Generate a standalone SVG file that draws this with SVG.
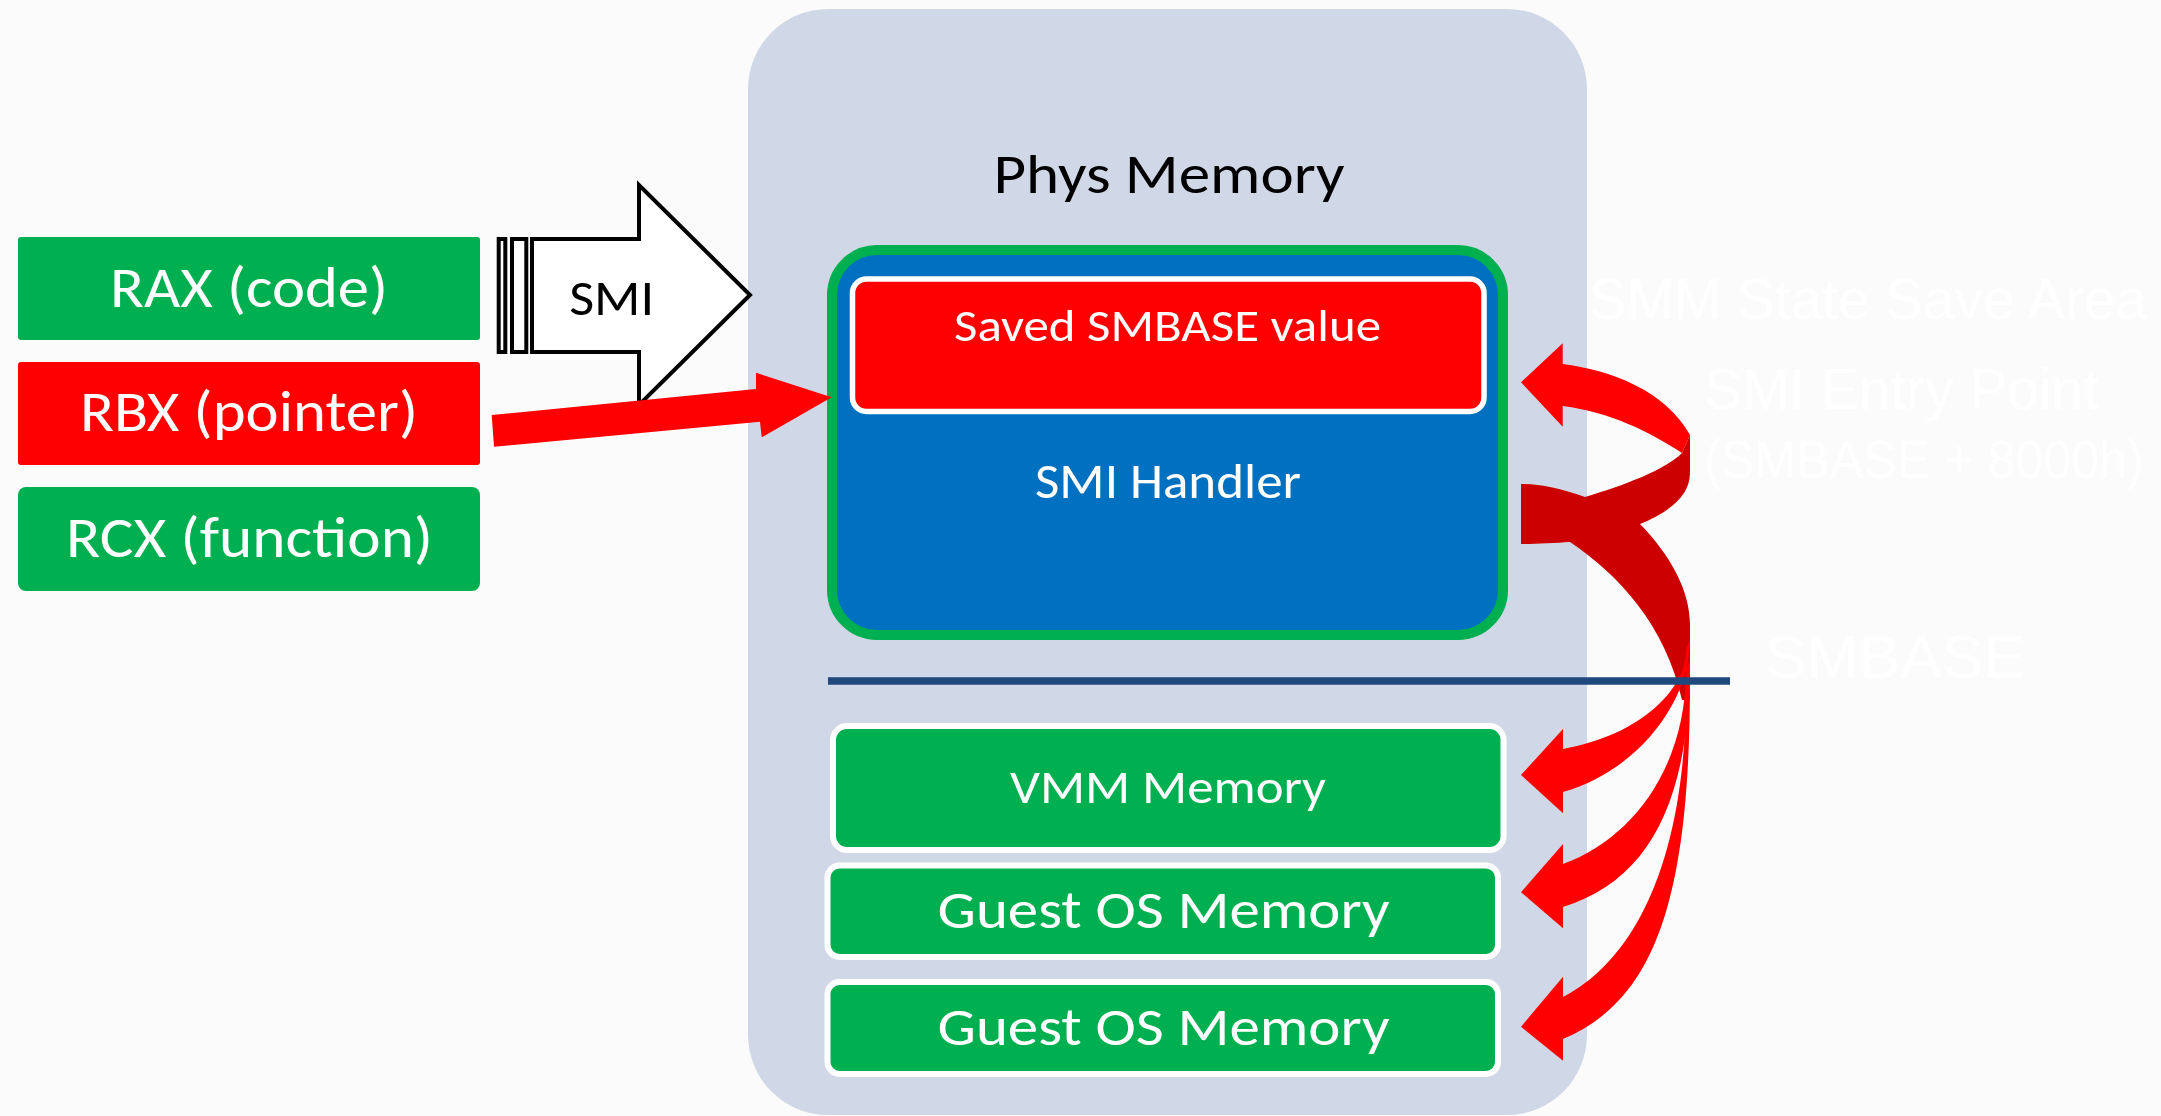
<svg xmlns="http://www.w3.org/2000/svg" width="2161" height="1116" viewBox="0 0 2161 1116">
<style>
.cal{font-family:Calibri,Carlito,Lato,"Liberation Sans",sans-serif;text-anchor:middle}
.wt{fill:#ffffff}
.hid{font-family:"Liberation Sans",Arial,sans-serif;fill:#ffffff}
.grn{fill:#00b050}
.wbox{fill:#00b050;stroke:#ffffff;stroke-width:6}
.smi{fill:#ffffff;stroke:#000000;stroke-width:4;stroke-linejoin:miter}
.lr{fill:#ff0000}
.dr{fill:#cc0000}
</style>
<rect x="0" y="0" width="2161" height="1116" fill="#fbfbfb"/>

<g id="phys-memory">
  <rect x="748" y="9" width="839" height="1106" rx="80" ry="80" fill="#d0d8e8"/>
  <text class="cal" x="1169" y="193" font-size="56" fill="#000000" textLength="351" lengthAdjust="spacingAndGlyphs">Phys Memory</text>
</g>

<g id="hidden-labels">
  <text class="hid" x="1589" y="319" font-size="57" textLength="558" lengthAdjust="spacingAndGlyphs">SMM State Save Area</text>
  <text class="hid" x="1704" y="409" font-size="57" textLength="395" lengthAdjust="spacingAndGlyphs">SMI Entry Point</text>
  <text class="hid" x="1704" y="478" font-size="54" textLength="440" lengthAdjust="spacingAndGlyphs">(SMBASE + 8000h)</text>
  <text class="hid" x="1765" y="678" font-size="62" textLength="260" lengthAdjust="spacingAndGlyphs">SMBASE</text>
</g>

<g id="rax">
  <rect class="grn" x="18" y="237" width="462" height="103" rx="3"/>
  <text class="cal wt" x="249" y="307" font-size="57" textLength="278" lengthAdjust="spacingAndGlyphs">RAX (code)</text>
</g>
<g id="rbx">
  <rect x="18" y="362" width="462" height="103" rx="3" fill="#ff0000"/>
  <text class="cal wt" x="249" y="431" font-size="57" textLength="338" lengthAdjust="spacingAndGlyphs">RBX (pointer)</text>
</g>
<g id="rcx">
  <rect class="grn" x="18" y="487" width="462" height="104" rx="8"/>
  <text class="cal wt" x="249.5" y="557" font-size="58" textLength="367" lengthAdjust="spacingAndGlyphs">RCX (function)</text>
</g>

<g id="smi-arrow">
  <rect class="smi" x="498.7" y="239" width="6.6" height="113"/>
  <rect class="smi" x="512" y="239" width="14.3" height="113"/>
  <path class="smi" d="M532,239 L639,239 L639,185 L750,295 L639,405 L639,352 L532,352 Z"/>
  <text class="cal" x="611.7" y="315" font-size="50" fill="#000000" textLength="85" lengthAdjust="spacingAndGlyphs">SMI</text>
</g>

<g id="smi-handler">
  <rect x="832" y="250" width="671" height="385" rx="45" ry="45" fill="#0070c0" stroke="#00b050" stroke-width="10"/>
  <text class="cal wt" x="1168" y="498" font-size="49" textLength="266" lengthAdjust="spacingAndGlyphs">SMI Handler</text>
</g>
<g id="saved-smbase">
  <rect x="852.5" y="279" width="631.5" height="132.5" rx="14" fill="#ff0000" stroke="#ffffff" stroke-width="5.5"/>
  <text class="cal wt" x="1167.5" y="341" font-size="46" textLength="427" lengthAdjust="spacingAndGlyphs">Saved SMBASE value</text>
</g>

<g id="vmm-memory">
  <rect class="wbox" x="833" y="726" width="670.5" height="124" rx="14"/>
  <text class="cal wt" x="1168" y="803" font-size="48" textLength="316" lengthAdjust="spacingAndGlyphs">VMM Memory</text>
</g>
<g id="guest-os-memory-1">
  <rect class="wbox" x="827.5" y="865.5" width="670.5" height="91.5" rx="12"/>
  <text class="cal wt" x="1163.5" y="928" font-size="53" textLength="452" lengthAdjust="spacingAndGlyphs">Guest OS Memory</text>
</g>
<g id="guest-os-memory-2">
  <rect class="wbox" x="827.5" y="982" width="670.5" height="92" rx="12"/>
  <text class="cal wt" x="1163.5" y="1045" font-size="53" textLength="452" lengthAdjust="spacingAndGlyphs">Guest OS Memory</text>
</g>

<g id="connectors">
  <path class="lr" d="M491.7,415 L756,389 L756,372.7 L831.7,397.3 L761.7,437.3 L760,421.7 L494,446.7 Z"/>
  <path class="dr" d="M1521,484 C1540,484 1560,488 1585,497 C1625,485 1665,470 1682,453 L1690,435 L1690,473 C1690,495 1670,512 1640,524 C1670,555 1690,590 1690,625 L1690,700 L1682,700 C1665,625 1620,576 1570,542 C1555,543 1535,544 1521,544 Z"/>
  <path class="lr" d="M1562.7,364 C1610,370 1665,390 1690,435 L1682,453 C1650,432 1610,412 1562.7,406 L1562.7,426.7 L1521,382.3 L1562.7,343.3 Z"/>
  <path class="lr" d="M1690,640 C1690,700 1640,770 1563,792 L1563,813.3 L1521,775 L1563,729 L1563,749 C1640,735 1686,690 1686,650 Z"/>
  <path class="lr" d="M1690,660 C1690,800 1650,880 1563,907 L1563,928.3 L1521,892.3 L1563,844 L1563,864 C1630,840 1686,770 1686,670 Z"/>
  <path class="lr" d="M1690,680 C1690,900 1655,1000 1563,1039 L1563,1060.7 L1521,1026.7 L1563,976.7 L1563,997 C1635,960 1686,860 1686,690 Z"/>
  <line x1="828" y1="681" x2="1730" y2="681" stroke="#1f497d" stroke-width="7.5"/>
</g>
</svg>
